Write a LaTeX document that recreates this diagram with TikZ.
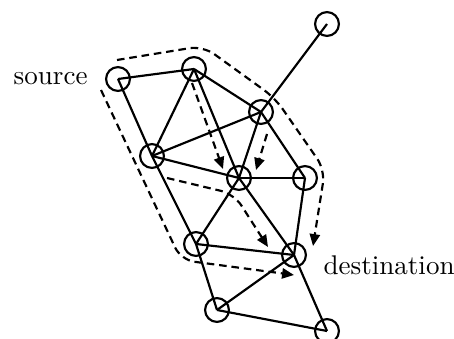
\documentclass[tikz,border=0pt]{standalone}
\usepackage{tikz}
\usetikzlibrary{arrows.meta, positioning, calc}
\tikzset{
	station/.style={circle, draw=black, line width=0.8pt, minimum size=0.31cm, inner sep=0pt},
	link/.style   ={line width=0.8pt},
	route/.style  ={line width=0.8pt, dash pattern=on 2.8pt off 1.8pt, rounded corners=5pt, -{Triangle[length=4.4pt, width=3.8pt]}},
	tag/.style    ={inner sep=0pt},
}

\begin{document}
\begin{tikzpicture}[x=0.013cm, y=-0.013cm]
	\useasboundingbox (0,0) rectangle (454,339);
	\node[station] (a) at (118,79) {};
	\node[station] (b) at (194,69) {};
	\node[station] (c) at (327,24) {};
	\node[station] (d) at (261,112) {};
	\node[station] (e) at (152,156) {};
	\node[station] (f) at (239,178) {};
	\node[station] (g) at (305,178) {};
	\node[station] (h) at (196,244) {};
	\node[station] (i) at (294,255) {};
	\node[station] (j) at (217,310) {};
	\node[station] (k) at (327,331) {};
	\node[tag, left=0.22cm of a] (src) {source};
	\node[tag, right=0.21cm of i, yshift=-0.14cm] (dst) {destination};
	\foreach \u/\v in {a/b, a/e, b/e, b/f, b/d, e/d, e/f, d/f, d/g, d/c, f/g, f/h, f/i, g/i, e/h, h/i, h/j, i/j, j/k, i/k}
		\draw[link] (\u.center) -- (\v.center);
	% dashed routes, source to destination
	\draw[route] ($(a)+(-1,-19)$) -- ($(b)+(9,-23)$) -- ($(d)+(14,-14)$) -- ($(g)+(20,-8)$) -- ($(i)+(19,-9)$);
	\draw[route] ($(a)+(-17,11)$) -- ($(h)+(-15,16)$) -- ($(i)+(0,20)$);
	\draw[route] ($(b)+(-2,14)$) -- ($(f)+(-16,-9)$);
	\draw[route] ($(d)+(6,22)$) -- ($(f)+(17,-8)$);
	\draw[route] ($(e)+(15,22)$) -- ($(f)+(-5,16)$) -- ($(i)+(-26,-8)$);
\end{tikzpicture}
\end{document}
